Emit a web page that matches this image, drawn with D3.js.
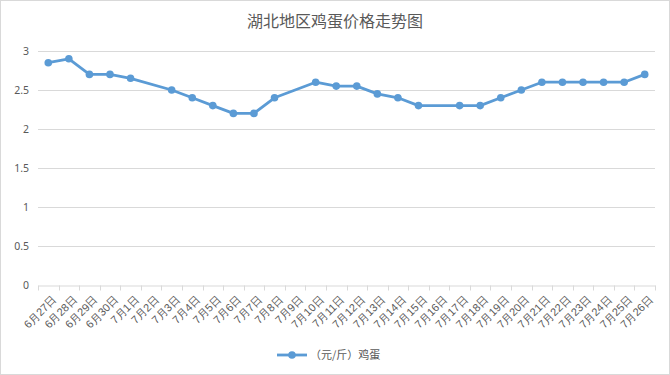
<!DOCTYPE html>
<html>
<head>
<meta charset="utf-8">
<script src="https://cdn.jsdelivr.net/npm/d3@7"></script>
<style>
  body { margin: 0; background: #fff; }
  svg { display: block; font-family: "Noto Sans CJK SC", "Noto Sans", sans-serif; }
</style>
</head>
<body>
<div id="chart"></div>
<script>
var title = "湖北地区鸡蛋价格走势图";
var seriesName = "（元/斤）鸡蛋";
var dates = ["6月27日", "6月28日", "6月29日", "6月30日", "7月1日", "7月2日", "7月3日", "7月4日",
  "7月5日", "7月6日", "7月7日", "7月8日", "7月9日", "7月10日", "7月11日", "7月12日", "7月13日",
  "7月14日", "7月15日", "7月16日", "7月17日", "7月18日", "7月19日", "7月20日", "7月21日",
  "7月22日", "7月23日", "7月24日", "7月25日", "7月26日"];
// null = no quote that day, line bridges the gap
var prices = [2.85, 2.9, 2.7, 2.7, 2.65, null, 2.5, 2.4, 2.3, 2.2, 2.2, 2.4, null, 2.6, 2.55,
  2.55, 2.45, 2.4, 2.3, null, 2.3, 2.3, 2.4, 2.5, 2.6, 2.6, 2.6, 2.6, 2.6, 2.7];
var yTicks = [0, 0.5, 1, 1.5, 2, 2.5, 3];

var width = 670, height = 375;
var margin = { top: 51, right: 15, bottom: 90, left: 38 };
var blue = "#5B9BD5";
var textColor = "#595959";

var svg = d3.select("#chart").append("svg")
  .attr("width", width)
  .attr("height", height);

svg.append("rect")
  .attr("x", 0.5).attr("y", 0.5)
  .attr("width", width - 1).attr("height", height - 1)
  .attr("fill", "#fff")
  .attr("stroke", "#d9d9d9");

svg.append("text")
  .attr("x", width / 2)
  .attr("y", 27)
  .attr("text-anchor", "middle")
  .attr("font-size", 16)
  .attr("fill", textColor)
  .text(title);

var x = d3.scaleBand()
  .domain(dates)
  .range([margin.left, width - margin.right]);

var y = d3.scaleLinear()
  .domain([0, 3])
  .range([height - margin.bottom, margin.top]);

// gridlines
svg.append("g")
  .selectAll("line")
  .data(yTicks.filter(function (d) { return d > 0; }))
  .enter().append("line")
  .attr("x1", margin.left)
  .attr("x2", width - margin.right)
  .attr("y1", function (d) { return y(d) + 0.5; })
  .attr("y2", function (d) { return y(d) + 0.5; })
  .attr("stroke", "#d9d9d9");

// y axis labels
var yAxis = svg.append("g")
  .attr("transform", "translate(" + margin.left + ",0)")
  .call(d3.axisLeft(y).tickValues(yTicks).tickFormat(d3.format("")).tickSize(0).tickPadding(9));
yAxis.select(".domain").remove();
yAxis.selectAll("text")
  .attr("font-size", 10.5)
  .attr("fill", textColor)
  .style("font-family", "'Noto Sans', sans-serif");

// x axis
var xAxis = svg.append("g")
  .attr("transform", "translate(0," + (y(0) + 0.5) + ")")
  .call(d3.axisBottom(x).tickSizeOuter(0).tickSize(0));
xAxis.select(".domain").attr("stroke", "#d9d9d9");
xAxis.selectAll(".tick line").remove();

// tick marks at band boundaries
var bounds = dates.map(function (d) { return x(d); }).concat([x(dates[dates.length - 1]) + x.bandwidth()]);
xAxis.append("g")
  .selectAll("line")
  .data(bounds)
  .enter().append("line")
  .attr("x1", function (d) { return Math.round(d) + 0.5; })
  .attr("x2", function (d) { return Math.round(d) + 0.5; })
  .attr("y1", 0)
  .attr("y2", 5)
  .attr("stroke", "#d9d9d9");

xAxis.selectAll(".tick text")
  .attr("font-size", 11)
  .attr("fill", textColor)
  .attr("text-anchor", "end")
  .attr("dy", "0.35em")
  .attr("transform", "translate(4,10) rotate(-45)");

// line + markers
var points = dates.map(function (d, i) { return { date: d, value: prices[i] }; })
  .filter(function (p) { return p.value !== null; });

var line = d3.line()
  .x(function (p) { return x(p.date) + x.bandwidth() / 2; })
  .y(function (p) { return y(p.value); });

svg.append("path")
  .datum(points)
  .attr("d", line)
  .attr("fill", "none")
  .attr("stroke", blue)
  .attr("stroke-width", 2.8)
  .attr("stroke-linejoin", "round");

svg.append("g")
  .selectAll("circle")
  .data(points)
  .enter().append("circle")
  .attr("cx", function (p) { return x(p.date) + x.bandwidth() / 2; })
  .attr("cy", function (p) { return y(p.value); })
  .attr("r", 3.8)
  .attr("fill", blue);

// legend
var legend = svg.append("g").attr("transform", "translate(277,355)");
legend.append("line")
  .attr("x1", 0).attr("x2", 30)
  .attr("stroke", blue).attr("stroke-width", 2.8);
legend.append("circle")
  .attr("cx", 15).attr("r", 3.8).attr("fill", blue);
legend.append("text")
  .attr("x", 33)
  .attr("dy", "0.35em")
  .attr("font-size", 11)
  .attr("fill", textColor)
  .text(seriesName);
</script>
</body>
</html>
